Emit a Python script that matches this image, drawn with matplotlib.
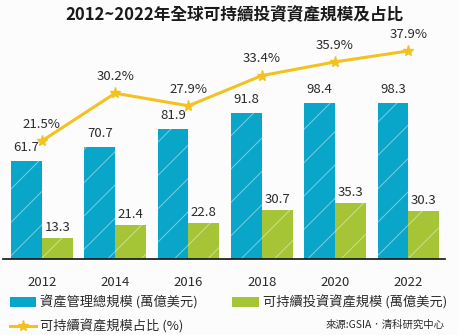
import matplotlib
matplotlib.use("Agg")
import matplotlib.pyplot as plt
from matplotlib.patches import Patch
from matplotlib.lines import Line2D
import numpy as np

plt.rcParams['font.family'] = ['Noto Sans CJK TC', 'DejaVu Sans']
plt.rcParams['hatch.linewidth'] = 0.7

years = ["2012", "2014", "2016", "2018", "2020", "2022"]
total_aum = [61.7, 70.7, 81.9, 91.8, 98.4, 98.3]
sustainable_aum = [13.3, 21.4, 22.8, 30.7, 35.3, 30.3]
share_pct = [21.5, 30.2, 27.9, 33.4, 35.9, 37.9]

title = "2012~2022年全球可持續投資資產規模及占比"
label_total = "資產管理總規模 (萬億美元)"
label_sust = "可持續投資資產規模 (萬億美元)"
label_share = "可持續資產規模占比 (%)"
source = "來源:GSIA．清科研究中心"

blue = "#0aa6c9"
green = "#a6c536"
gold = "#f3c21f"
bg = "#fcfcfc"
txt = "#2b2b2b"

W, H = 458, 335
fig = plt.figure(figsize=(W / 100, H / 100), dpi=100, facecolor=bg)
ax = fig.add_axes([3 / W, (H - 259) / H, 442 / W, (259 - 40) / H])
ax.set_facecolor(bg)

x = np.arange(len(years))
bw = 0.42
hatch_col = (1, 1, 1, 0.45)
b1 = ax.bar(x - bw / 2, total_aum, bw, color=blue, edgecolor=hatch_col, linewidth=0, hatch="/")
b2 = ax.bar(x + bw / 2, sustainable_aum, bw, color=green, edgecolor=hatch_col, linewidth=0, hatch="/")

ax.set_xlim(-0.53, 5.50)
ax.set_ylim(0, 219 / 1.59)
for s in ["top", "left", "right"]:
    ax.spines[s].set_visible(False)
ax.spines["bottom"].set_linewidth(1.2)
ax.spines["bottom"].set_color("#111111")
ax.set_yticks([])
ax.set_xticks(x)
ax.set_xticklabels(years, fontsize=9.5, color=txt)
ax.tick_params(axis="x", length=0, pad=12)

for xi, v in zip(x, total_aum):
    ax.annotate(f"{v:.1f}", (xi - bw / 2, v), xytext=(0, 5), textcoords="offset points",
                ha="center", va="bottom", fontsize=9.5, color=txt)
for xi, v in zip(x, sustainable_aum):
    ax.annotate(f"{v:.1f}", (xi + bw / 2, v), xytext=(0, 3), textcoords="offset points",
                ha="center", va="bottom", fontsize=9.5, color=txt)

ax2 = ax.twinx()
ax2.set_ylim(0, 219 / 5.49)
ax2.axis("off")
ax2.plot(x, share_pct, color=gold, linewidth=2.2, marker="*", markersize=8,
         markeredgecolor=gold, markerfacecolor=gold)
for xi, p in zip(x, share_pct):
    ax2.annotate(f"{p:.1f}%", (xi, p), xytext=(0, 12), textcoords="offset points",
                 ha="center", va="center", fontsize=9.5, color=txt)

fig.text(234 / W, 1 - 15 / H, title, ha="center", va="center", fontsize=12,
         fontweight="bold", color="#1a1a1a")

handles = [Patch(facecolor=blue, edgecolor="none"),
           Line2D([0], [0], color=gold, lw=2.2, marker="*", markersize=8),
           Patch(facecolor=green, edgecolor="none")]
labels = [label_total, label_share, label_sust]
leg = fig.legend(handles, labels, loc="upper left", bbox_to_anchor=(0.022, 1 - 295 / H),
                 ncol=2, frameon=False, fontsize=9.5, handlelength=2.0, handleheight=0.8,
                 handletextpad=0.3, columnspacing=2.6, labelspacing=0.75, labelcolor=txt,
                 borderaxespad=0, borderpad=0)

fig.text(445 / W, 1 - 325 / H, source, ha="right", va="center", fontsize=7.5, color=txt)

fig.savefig("out.png", dpi=100, facecolor=bg)
